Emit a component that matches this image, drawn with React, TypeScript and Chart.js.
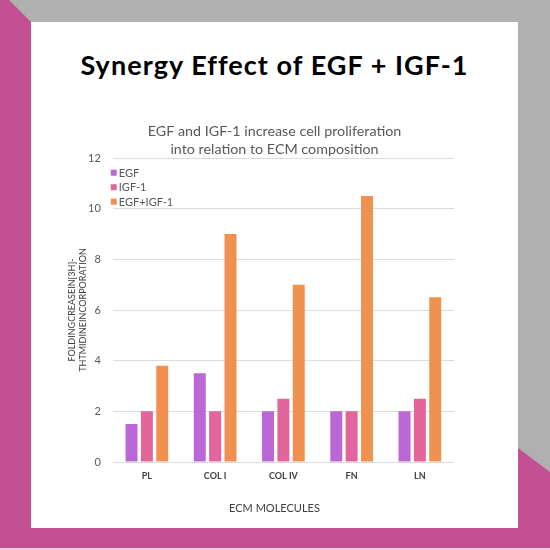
import React, { useEffect, useRef } from "react";
import { Chart, registerables } from "chart.js";

Chart.register(...registerables);

// ---- data ----
const categories = ["PL", "COL I", "COL IV", "FN", "LN"];
const egfValues = [1.5, 3.5, 2, 2, 2];
const igfValues = [2, 2, 2.5, 2, 2.5];
const comboValues = [3.8, 9, 7, 10.5, 6.5];
const seriesNames = ["EGF", "IGF-1", "EGF+IGF-1"];
const seriesColors = ["#BB67D6", "#E2669C", "#F0914F"];
const mainTitle = "Synergy Effect of EGF + IGF-1";
const chartTitle = ["EGF and IGF-1 increase cell proliferation", "into relation to ECM composition"];
const yAxisTitle = ["FOLDINGCREASEIN[3H]-", "THTMIDINEINCORPORATION"];
const xAxisTitle = "ECM MOLECULES";
const yMin = 0;
const yMax = 12;
const yStep = 2;

const FONT = "Lato, 'Noto Sans', sans-serif";

const insideLegend = {
  id: "insideLegend",
  afterDraw(chart: any) {
    const { ctx, chartArea } = chart;
    ctx.save();
    ctx.font = `11px ${FONT}`;
    ctx.textBaseline = "middle";
    ctx.textAlign = "left";
    chart.data.datasets.forEach((ds: any, i: number) => {
      const y = chartArea.top + 14.7 + i * 14.5;
      const x = chartArea.left - 2;
      ctx.fillStyle = ds.backgroundColor;
      ctx.fillRect(x, y - 3, 6, 6);
      ctx.fillStyle = "#595959";
      ctx.fillText(ds.label, x + 8, y + 0.5);
    });
    ctx.restore();
  },
};

export default function App() {
  const canvasRef = useRef<HTMLCanvasElement | null>(null);

  useEffect(() => {
    if (!canvasRef.current) return;
    const seriesValues = [egfValues, igfValues, comboValues];
    const chart = new Chart(canvasRef.current, {
      type: "bar",
      data: {
        labels: categories,
        datasets: seriesNames.map((name, i) => ({
          label: name,
          data: seriesValues[i],
          backgroundColor: seriesColors[i],
          borderWidth: 0,
          categoryPercentage: 0.675,
          barPercentage: 0.78,
          yAxisID: "y",
        })),
      },
      options: {
        responsive: false,
        animation: false,
        devicePixelRatio: 1,
        layout: { padding: { left: 0, right: 0, top: 0, bottom: 0 } },
        plugins: {
          legend: { display: false },
          tooltip: { enabled: false },
          title: {
            display: true,
            text: chartTitle,
            color: "#595959",
            font: { family: FONT, size: 14.3, weight: "normal", lineHeight: 18 / 14.3 },
            padding: { top: 100, bottom: 0 },
          },
          subtitle: {
            display: true,
            position: "bottom",
            text: xAxisTitle,
            color: "#404040",
            font: { family: FONT, size: 11, lineHeight: 1.2 },
            padding: { top: 10.6, bottom: 13.4 },
          },
        },
        scales: {
          x: {
            grid: { display: false, drawTicks: false },
            border: { display: false },
            ticks: {
              color: "#404040",
              font: { family: FONT, size: 9, weight: "bold" },
              padding: 9,
            },
          },
          y: {
            min: yMin,
            max: yMax,
            grid: { color: "#DCDCDC", drawTicks: false, lineWidth: 1 },
            border: { display: false },
            ticks: {
              stepSize: yStep,
              color: "#595959",
              font: { family: FONT, size: 11 },
              padding: 12,
            },
            title: {
              display: true,
              text: yAxisTitle,
              color: "#404040",
              font: { family: FONT, size: 9, lineHeight: 11 / 9 },
              padding: { top: 35.5, bottom: -12.5 },
            },
          },
          yRightSpace: {
            position: "right",
            min: yMin,
            max: yMax,
            grid: { display: false, drawTicks: false },
            border: { display: false },
            ticks: { display: false },
            afterFit(scale: any) {
              scale.width = 64;
            },
          },
        },
      },
      plugins: [insideLegend],
    } as any);
    return () => chart.destroy();
  }, []);

  return (
    <div style={{ position: "fixed", left: 0, top: 0, width: 550, height: 550, overflow: "hidden" }}>
      <svg width={550} height={550} style={{ position: "absolute", left: 0, top: 0 }}>
        <rect x={0} y={0} width={550} height={550} fill="#B0B0B0" />
        <polygon
          points="0,0 9,0 31,22 31,528 518,528 518,448 550,472 550,548 0,548"
          fill="#C45094"
        />
        <rect x={0} y={548} width={550} height={2} fill="#EBD3E1" />
        <rect x={31} y={22} width={487} height={506} fill="#FFFFFF" />
      </svg>
      <div
        style={{
          position: "absolute",
          left: 31,
          top: 51,
          width: 487,
          textAlign: "center",
          fontFamily: FONT,
          fontWeight: 700,
          fontSize: 27,
          lineHeight: "27px",
          letterSpacing: "1.05px",
          color: "#000",
          whiteSpace: "nowrap",
        }}
      >
        {mainTitle}
      </div>
      <canvas
        ref={canvasRef}
        width={487}
        height={506}
        style={{ position: "absolute", left: 31, top: 22, width: 487, height: 506 }}
      />
    </div>
  );
}
